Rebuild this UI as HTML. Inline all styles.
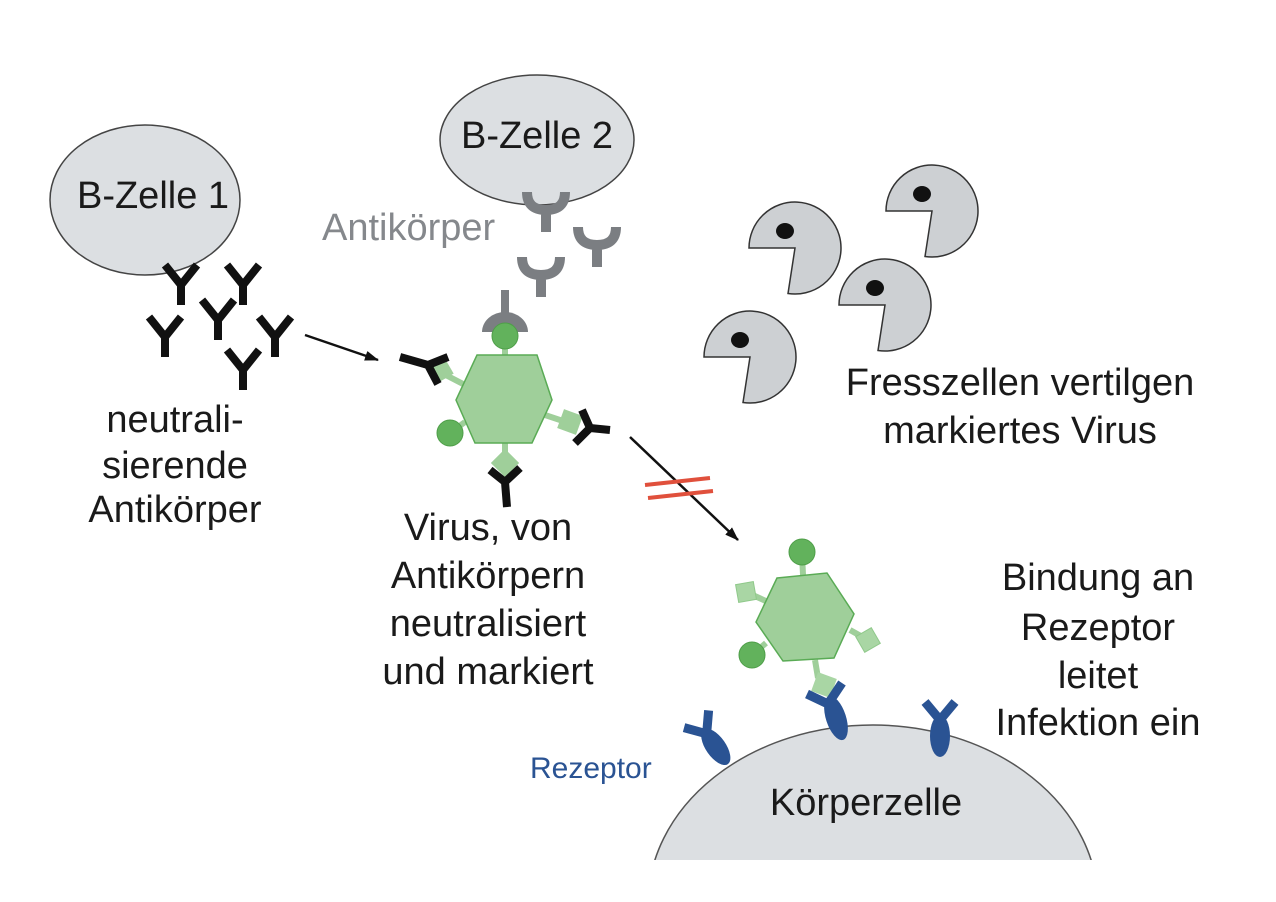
<!DOCTYPE html>
<html><head><meta charset="utf-8"><style>html,body{margin:0;padding:0;background:#fff;width:1276px;height:902px;overflow:hidden}svg{display:block}</style></head>
<body>
<svg width="1276" height="902" viewBox="0 0 1276 902" xmlns="http://www.w3.org/2000/svg" font-family="Liberation Sans, sans-serif">
<defs>
<marker id="ah" markerWidth="14" markerHeight="10" refX="13" refY="5" orient="auto" markerUnits="userSpaceOnUse" viewBox="0 0 14 10"><path d="M0,0 L14,5 L0,10 z" fill="#111"/></marker>
<clipPath id="cc"><rect x="0" y="0" width="1276" height="860"/></clipPath>
<g id="yb"><path d="M0,0 L0,-22 M0,-20 L-16,-40 M0,-20 L16,-40" stroke="#111" stroke-width="8" fill="none"/></g>
<g id="yg"><path d="M0,0 L0,-24 M-19,-40 Q-19,-22 0,-22 Q19,-22 19,-40" stroke="#7b7e82" stroke-width="10" fill="none"/></g>
<g id="rec"><ellipse cx="0" cy="-16" rx="10" ry="21" fill="#2a5393"/><path d="M0,-32 L-15,-50 M0,-32 L15,-50" stroke="#2a5393" stroke-width="9"/></g>
<g id="pac"><path d="M0,0 L-46,0 A46,46 0 1 1 -7,45.5 Z" fill="#cdd0d3" stroke="#333" stroke-width="1.5"/><ellipse cx="-10" cy="-17" rx="9" ry="8" fill="#111"/></g>
</defs>

<!-- cells -->
<ellipse cx="145" cy="200" rx="95" ry="75" fill="#dcdfe2" stroke="#444" stroke-width="1.5"/>
<ellipse cx="537" cy="140" rx="97" ry="65" fill="#dcdfe2" stroke="#444" stroke-width="1.5"/>
<g clip-path="url(#cc)"><ellipse cx="873" cy="904" rx="225" ry="179" fill="#dcdfe2" stroke="#555" stroke-width="1.5"/></g>

<!-- pacmen -->
<use href="#pac" x="795" y="248"/>
<use href="#pac" x="932" y="211"/>
<use href="#pac" x="885" y="305"/>
<use href="#pac" x="750" y="357"/>

<!-- black antibodies -->
<use href="#yb" x="181" y="305"/>
<use href="#yb" x="243" y="305"/>
<use href="#yb" x="218" y="340"/>
<use href="#yb" x="165" y="357"/>
<use href="#yb" x="275" y="357"/>
<use href="#yb" x="243" y="390"/>

<!-- gray antibodies -->
<use href="#yg" x="546" y="232"/>
<use href="#yg" x="597" y="267"/>
<use href="#yg" x="541" y="297"/>
<path d="M505,290 L505,318" stroke="#7b7e82" stroke-width="8"/>
<path d="M482,332 A23,20 0 0 1 528,332 Z" fill="#7b7e82"/>

<!-- virus 1 -->
<g stroke="#9fcf9a" stroke-width="6">
<line x1="505" y1="335" x2="505" y2="356"/><line x1="450" y1="433" x2="465" y2="422"/>
<line x1="440" y1="372" x2="465" y2="385"/><line x1="575" y1="425" x2="545" y2="415"/><line x1="505" y1="465" x2="505" y2="443"/>
</g>
<polygon points="477,355 537,355 552,400 532,443 475,443 456,400" fill="#9fcf9a" stroke="#5aab55" stroke-width="1.5"/>
<circle cx="505" cy="336" r="13" fill="#62b25c" stroke="#4e9e48"/>
<circle cx="450" cy="433" r="13" fill="#62b25c" stroke="#4e9e48"/>
<rect x="-10" y="-10" width="20" height="20" fill="#9fcf9a" transform="translate(440,370) rotate(-30)"/>
<rect x="-10" y="-10" width="20" height="20" fill="#9fcf9a" transform="translate(570,422) rotate(20)"/>
<rect x="-10" y="-10" width="20" height="20" fill="#9fcf9a" transform="translate(505,463) rotate(45)"/>
<path d="M400,357 L428,365 M428,365 L438,384 M428,365 L448,357" stroke="#111" stroke-width="8" fill="none"/>
<path d="M610,430 L590,428 M590,428 L575,443 M590,428 L582,410" stroke="#111" stroke-width="8" fill="none"/>
<path d="M507,507 L505,482 M505,482 L490,470 M505,482 L520,468" stroke="#111" stroke-width="8" fill="none"/>

<!-- arrows -->
<line x1="305" y1="335" x2="378" y2="360" stroke="#111" stroke-width="2.5" marker-end="url(#ah)"/>
<line x1="630" y1="437" x2="738" y2="540" stroke="#111" stroke-width="2.5" marker-end="url(#ah)"/>
<path d="M645,485 L710,478 M648,498 L713,491" stroke="#e0503c" stroke-width="4"/>

<!-- virus 2 -->
<g stroke="#9fcf9a" stroke-width="6">
<line x1="802" y1="553" x2="803" y2="575"/><line x1="752" y1="655" x2="766" y2="643"/>
<line x1="746" y1="592" x2="768" y2="602"/><line x1="868" y1="640" x2="850" y2="630"/><line x1="818" y1="678" x2="815" y2="660"/>
</g>
<polygon points="777,578 827,573 854,614 834,658 783,661 756,622" fill="#9fcf9a" stroke="#5aab55" stroke-width="1.5"/>
<circle cx="802" cy="552" r="13" fill="#62b25c" stroke="#4e9e48"/>
<circle cx="752" cy="655" r="13" fill="#62b25c" stroke="#4e9e48"/>
<rect x="-9" y="-9" width="18" height="18" fill="#a9d6a4" stroke="#8fc98a" transform="translate(746,592) rotate(-10)"/>
<rect x="-9" y="-9" width="18" height="18" fill="#a9d6a4" stroke="#8fc98a" transform="translate(868,640) rotate(-30)"/>
<rect x="-10" y="-10" width="20" height="20" fill="#a9d6a4" transform="translate(824,685) rotate(20)"/>

<!-- receptors -->
<g transform="translate(725,760) rotate(-35)"><use href="#rec"/></g>
<path d="M807,694 L828,704 L842,683" stroke="#2a5393" stroke-width="9" fill="none"/>
<ellipse cx="836" cy="718" rx="10" ry="23" fill="#2a5393" transform="rotate(-18 836 718)"/>
<g transform="translate(940,752)"><use href="#rec"/></g>

<!-- text -->
<g font-size="38" fill="#1a1a1a" text-anchor="middle">
<text x="153" y="208">B-Zelle 1</text>
<text x="537" y="148">B-Zelle 2</text>
<text x="175" y="432">neutrali-</text>
<text x="175" y="478">sierende</text>
<text x="175" y="522">Antikörper</text>
<text x="488" y="540">Virus, von</text>
<text x="488" y="588">Antikörpern</text>
<text x="488" y="636">neutralisiert</text>
<text x="488" y="684">und markiert</text>
<text x="1020" y="395">Fresszellen vertilgen</text>
<text x="1020" y="443">markiertes Virus</text>
<text x="1098" y="590">Bindung an</text>
<text x="1098" y="640">Rezeptor</text>
<text x="1098" y="688">leitet</text>
<text x="1098" y="735">Infektion ein</text>
<text x="866" y="815">Körperzelle</text>
</g>
<text x="322" y="240" font-size="38" fill="#85888c">Antikörper</text>
<text x="530" y="778" font-size="30" fill="#2a5393">Rezeptor</text>
</svg>
</body></html>
